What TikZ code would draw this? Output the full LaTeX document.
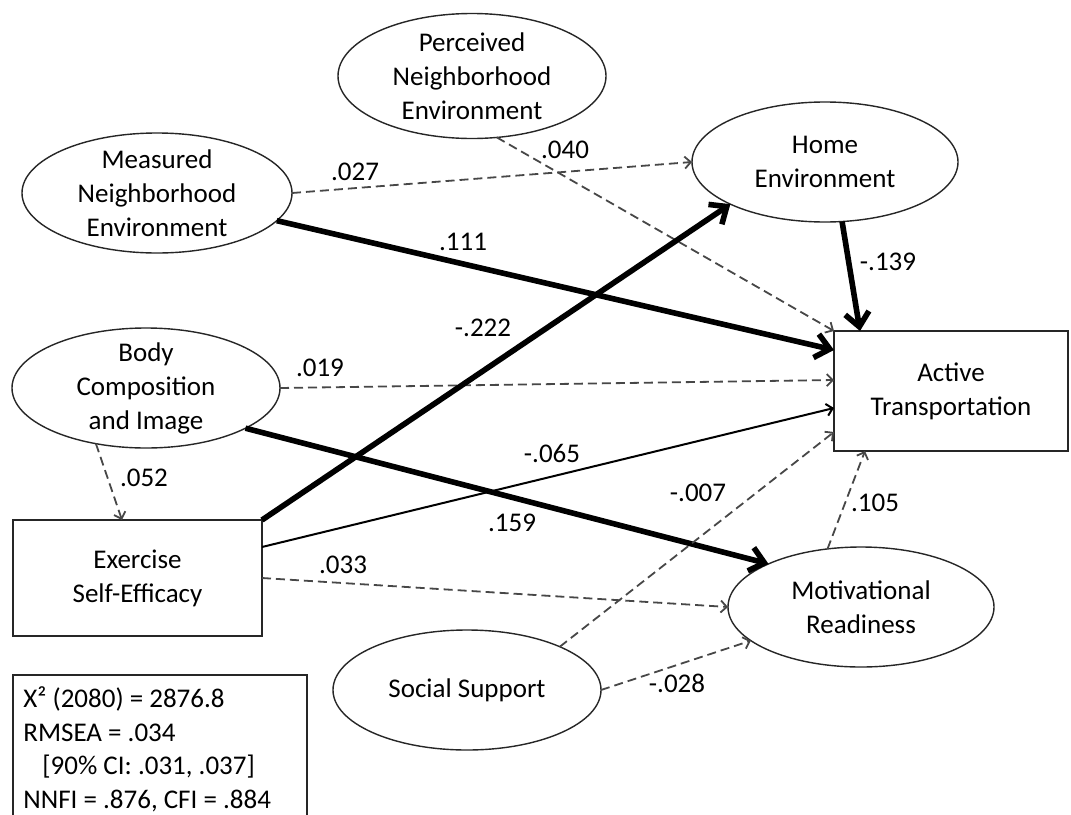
\documentclass[tikz,border=0pt]{standalone}
\usepackage{fontspec}
\setmainfont{Carlito}
\usetikzlibrary{shapes.geometric,arrows.meta,calc}
\begin{document}
\begin{tikzpicture}[x=0.5pt,y=-0.5pt,
  every node/.style={font=\fontsize{13.5}{17}\selectfont, text=black},
  latent/.style={ellipse, draw=black!85, line width=0.7pt, inner sep=0pt, outer sep=0pt, minimum width=134pt, minimum height=60pt},
  observed/.style={rectangle, draw=black!85, line width=0.8pt, inner sep=0pt, outer sep=0pt},
  txt/.style={align=center, inner sep=0pt},
  lbl/.style={inner sep=1pt},
  fitline/.style={anchor=base west, inner sep=0pt},
  dpath/.style={draw=black!72, line width=0.9pt, dash pattern=on 4.5pt off 2.5pt, -{Straight Barb[length=3pt,width=6pt]}},
  spath/.style={draw=black, line width=1pt, -{Straight Barb[length=3pt,width=6pt]}},
  tpath/.style={draw=black, line width=2.8pt, -{Straight Barb[length=7pt,width=12pt]}},
]
\useasboundingbox (0,0) rectangle (1071,814);
\fill[white] (0,0) rectangle (1071,814);

% latent variables
\node[latent, minimum height=62.5pt] (pne) at (472,76) {};
\node[txt] (pnet) at (pne.center) {Perceived\\Neighborhood\\Environment};
\node[latent, minimum width=135pt] (mne) at (157,193) {};
\node[txt] (mnet) at (mne.center) {Measured\\Neighborhood\\Environment};
\node[latent, minimum width=133pt] (hne) at (825,162) {};
\node[txt] (hnet) at (hne.center) {Home\\Environment};
\node[latent] (bce) at (146,388) {};
\node[txt] (bcet) at (bce.center) {Body\\Composition\\and Image};
\node[latent, minimum width=133pt] (mr) at (861,607) {};
\node[txt] (mrt) at (mr.center) {Motivational\\Readiness};
\node[latent] (ss) at (467,690) {};
\node[txt] (sst) at (ss.center) {Social Support};

% observed variables
\node[observed, minimum width=124.5pt, minimum height=58pt] (ese) at (137.5,578) {};
\node[txt] (eset) at (ese.center) {Exercise\\Self-Efficacy};
\node[observed, minimum width=117pt, minimum height=60pt] (at) at (951,391) {};
\node[txt] (att) at (at.center) {Active\\Transportation};

% fit box
\node[observed, anchor=north west, minimum width=147pt, minimum height=85pt] (fitbox) at (13,675) {};
\node[fitline] (fit1) at (23,707) {X² (2080) = 2876.8};
\node[fitline] (fit2) at (23,741) {RMSEA = .034};
\node[fitline] (fit3) at (42,774) {[90\% CI: .031, .037]};
\node[fitline] (fit4) at (23,808) {NNFI = .876, CFI = .884};

% paths
\draw[dpath] (mne.east) -- (hne.west);
\draw[dpath] (pne.-68) -- (at.north west);
\draw[tpath] (mne.-13.5) -- ($(at.west)+(0,-41)$);
\draw[tpath] (hne.-74) -- ($(at.north west)+(26,0)$);
\draw[dpath] (bce.east) -- ($(at.west)+(0,-11)$);
\draw[tpath] (bce.-22) -- (mr.155);
\draw[dpath] (bce.228) -- ($(ese.north west)+(109,0)$);
\draw[tpath] (ese.north east) -- (hne.204);
\draw[spath] ($(ese.east)+(0,-31)$) -- ($(at.west)+(0,17)$);
\draw[dpath] (ese.east) -- (mr.west);
\draw[dpath] (ss.25) -- ($(at.west)+(0,41)$);
\draw[dpath] (ss.east) -- (mr.197);
\draw[dpath] (mr.120) -- ($(at.south west)+(31,0)$);

% labels
\node[lbl] (l027) at (355,172) {.027};
\node[lbl] (l040) at (565,150) {.040};
\node[lbl] (l111) at (463,242) {.111};
\node[lbl] (l139) at (888,262) {-.139};
\node[lbl] (l222) at (483,328) {-.222};
\node[lbl] (l019) at (320,368) {.019};
\node[lbl] (l052) at (144,478) {.052};
\node[lbl] (l065) at (552,453) {-.065};
\node[lbl] (l159) at (512,523) {.159};
\node[lbl] (l033) at (343,565) {.033};
\node[lbl] (l007) at (698,493) {-.007};
\node[lbl] (l105) at (875,503) {.105};
\node[lbl] (l028) at (677,683) {-.028};
\end{tikzpicture}
\end{document}
